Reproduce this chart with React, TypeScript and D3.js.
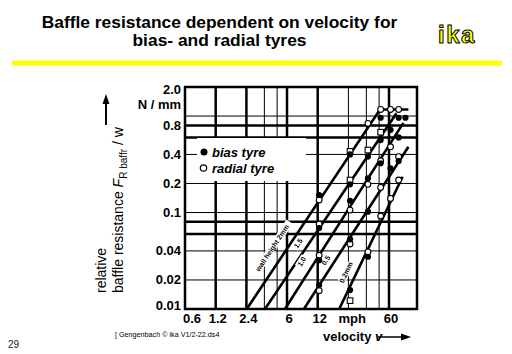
import * as d3 from 'd3';

// axis ticks (log scales)
const yTickValues = [2.0, 0.8, 0.4, 0.2, 0.1, 0.04, 0.02, 0.01];
const yTickLabels = ['2.0', '0.8', '0.4', '0.2', '0.1', '0.04', '0.02', '0.01'];
const xTickValues = [0.6, 1.2, 2.4, 6, 12, 25, 60];
const xTickLabels = ['0.6', '1.2', '2.4', '6', '12', 'mph', '60'];

// grid lines, heavy or thin
const gridYValues = [1.0, 0.8, 0.6, 0.4, 0.2, 0.1, 0.08, 0.06, 0.04, 0.02];
const gridYHeavy = [false, true, true, false, false, false, true, true, false, false];
const gridXValues = [1.2, 2.4, 3.6, 4.8, 6, 12, 24, 36, 48, 60];
const gridXHeavy = [true, true, false, false, true, true, false, false, false, true];

// wall heights: straight lines in log-log (velocity mph, F/w N/mm)
const wallLabels = ['wall height 2mm', '1.5', '1.0', '0.5', '0.2mm'];
const wallLines: [number, number][][] = [
  [[2.42, 0.01], [49, 1.17], [93, 1.17]],
  [[3.65, 0.01], [71, 1.07]],
  [[5.73, 0.01], [83, 0.85]],
  [[8.79, 0.01], [93, 0.48]],
  [[19.5, 0.01], [81.5, 0.235]],
];
const wallLabelAt: [number, number][] = [
  [4.3, 0.043],
  [7.7, 0.048],
  [8.35, 0.031],
  [14.4, 0.032],
  [22.7, 0.024],
];

// measured points
const biasPoints: [number, number][] = [
  [12.4, 0.152], [12.4, 0.069], [12.4, 0.032], [12.4, 0.0177],
  [24.9, 0.4], [24.9, 0.196], [24.9, 0.1325], [24.9, 0.0528], [24.9, 0.0157],
  [37.3, 0.38], [37.3, 0.226], [37.3, 0.102], [37.3, 0.0348],
  [49.7, 0.96], [49.7, 0.564], [49.7, 0.324],
  [62.1, 0.72], [62.1, 0.287],
  [74.6, 0.96], [74.6, 0.6], [74.6, 0.342],
  [87, 0.96],
];
const radialPoints: [number, number][] = [
  [12.4, 0.135], [12.4, 0.076], [12.4, 0.036], [12.4, 0.0155],
  [24.9, 0.106], [24.9, 0.0472],
  [37.3, 0.84], [37.3, 0.196], [37.3, 0.039],
  [49.7, 1.17], [49.7, 0.344], [49.7, 0.182], [49.7, 0.092],
  [62.1, 1.17], [62.1, 0.48], [62.1, 0.14],
  [74.6, 1.17], [74.6, 0.379], [74.6, 0.217],
];
const squarePoints: [number, number][] = [
  [24.9, 0.43], [24.9, 0.217], [24.9, 0.0122], [37.3, 0.444], [49.7, 0.68],
];

const W = 512;
const H = 354;
const frame = { left: 185, right: 417, top: 87, bottom: 309 };
const FONT = "'Liberation Sans', Arial, Helvetica, sans-serif";

export default function App() {
  const x = d3.scaleLog().domain([0.6, 60]).range([185, 389]);
  const y = d3.scaleLog().domain([0.01, 2]).range([frame.bottom, frame.top]);

  const line = d3
    .line<[number, number]>()
    .x((d) => x(d[0]))
    .y((d) => y(d[1]));

  const legend = { x: 197, y: 138, w: 109, h: 43 };

  return (
    <svg
      width={W}
      height={H}
      viewBox={`0 0 ${W} ${H}`}
      style={{ position: 'absolute', left: 0, top: 0, background: '#fff' }}
      fontFamily={FONT}
    >
      <rect width={W} height={H} fill="#fff" />
      <defs>
        <clipPath id="plot">
          <rect
            x={frame.left}
            y={frame.top}
            width={frame.right - frame.left}
            height={frame.bottom - frame.top}
          />
        </clipPath>
      </defs>

      {/* title */}
      <text x={219.5} y={27.5} textAnchor="middle" fontSize={17.4} fontWeight="bold">
        Baffle resistance dependent on velocity for
      </text>
      <text x={219.5} y={46} textAnchor="middle" fontSize={17.4} fontWeight="bold">
        bias- and radial tyres
      </text>
      <text
        x={457}
        y={43}
        textAnchor="middle"
        fontSize={24}
        fontWeight="bold"
        letterSpacing={1.5}
        fill="#ffff00"
        stroke="#000"
        strokeWidth={1}
      >
        ika
      </text>
      <line x1={12} x2={502} y1={63} y2={63} stroke="#ffff00" strokeWidth={5} />

      {/* grid */}
      <g clipPath="url(#plot)">
        {gridYValues.map((v, i) => (
          <line
            key={`gy${i}`}
            x1={frame.left}
            x2={frame.right}
            y1={y(v)}
            y2={y(v)}
            stroke="#000"
            strokeWidth={gridYHeavy[i] ? 2.5 : 1}
          />
        ))}
        {gridXValues.map((v, i) => (
          <line
            key={`gx${i}`}
            x1={x(v)}
            x2={x(v)}
            y1={frame.top}
            y2={frame.bottom}
            stroke="#000"
            strokeWidth={gridXHeavy[i] ? 2.5 : 1}
          />
        ))}
      </g>

      {/* wall height lines */}
      <g clipPath="url(#plot)">
        {wallLines.map((pts, i) => (
          <path
            key={`wl${i}`}
            d={line(pts) ?? ''}
            fill="none"
            stroke="#000"
            strokeWidth={2.6}
          />
        ))}
      </g>
      {wallLabels.map((label, i) => {
        const [p0, p1] = wallLines[i];
        const angle =
          (Math.atan2(y(p1[1]) - y(p0[1]), x(p1[0]) - x(p0[0])) * 180) / Math.PI;
        const cx = x(wallLabelAt[i][0]);
        const cy = y(wallLabelAt[i][1]);
        return (
          <g key={`wt${i}`} transform={`translate(${cx},${cy}) rotate(${angle})`}>
            <rect x={-label.length * 2.1} y={-4} width={label.length * 4.2} height={8} fill="#fff" />
            <text textAnchor="middle" y={2.5} fontSize={7} fontWeight="bold">
              {label}
            </text>
          </g>
        );
      })}

      {/* markers */}
      {squarePoints.map((d, i) => (
        <rect
          key={`sq${i}`}
          x={x(d[0]) - 2.8}
          y={y(d[1]) - 2.8}
          width={5.6}
          height={5.6}
          fill="#fff"
          stroke="#000"
          strokeWidth={1.1}
        />
      ))}
      {radialPoints.map((d, i) => (
        <circle
          key={`rp${i}`}
          cx={x(d[0])}
          cy={y(d[1])}
          r={2.9}
          fill="#fff"
          stroke="#000"
          strokeWidth={1.1}
        />
      ))}
      {biasPoints.map((d, i) => (
        <circle key={`bp${i}`} cx={x(d[0])} cy={y(d[1])} r={3.1} fill="#000" />
      ))}

      {/* legend */}
      <rect x={legend.x} y={legend.y} width={legend.w} height={legend.h} fill="#fff" />
      <circle cx={204} cy={152} r={3.5} fill="#000" />
      <text x={212} y={156.5} fontSize={13} fontWeight="bold" fontStyle="italic">
        bias tyre
      </text>
      <circle cx={203.5} cy={168} r={3.2} fill="#fff" stroke="#000" strokeWidth={1.2} />
      <text x={212} y={172.5} fontSize={13} fontWeight="bold" fontStyle="italic">
        radial tyre
      </text>

      {/* frame */}
      <rect
        x={frame.left}
        y={frame.top}
        width={frame.right - frame.left}
        height={frame.bottom - frame.top}
        fill="none"
        stroke="#000"
        strokeWidth={2.5}
      />

      {/* y ticks */}
      {yTickValues.map((v, i) => (
        <text
          key={`yt${i}`}
          x={181}
          y={Math.min(Math.max(y(v), 89), 305) + 4.5}
          textAnchor="end"
          fontSize={13}
          fontWeight="bold"
        >
          {yTickLabels[i]}
        </text>
      ))}
      <text x={181} y={108.5} textAnchor="end" fontSize={13} fontWeight="bold">
        N / mm
      </text>

      {/* x ticks */}
      {xTickValues.map((v, i) => (
        <text
          key={`xt${i}`}
          x={Math.max(x(v) + 2, 192)}
          y={323}
          textAnchor="middle"
          fontSize={13}
          fontWeight="bold"
        >
          {xTickLabels[i]}
        </text>
      ))}

      {/* y title */}
      <text transform="translate(106,293) rotate(-90)" fontSize={14}>
        relative
      </text>
      <text transform="translate(123,293) rotate(-90)" fontSize={14}>
        baffle resistance{' '}
        <tspan fontStyle="italic">F</tspan>
        <tspan fontSize={10} dy={4}>
          R baffr
        </tspan>
        <tspan dy={-4}> / w</tspan>
      </text>
      <line x1={106} x2={106} y1={125} y2={102} stroke="#000" strokeWidth={2} />
      <path d="M106,94 L102.5,104 L109.5,104 Z" fill="#000" />

      {/* x title */}
      <text x={323} y={341} fontSize={13} fontWeight="bold">
        velocity <tspan fontStyle="italic">v</tspan>
      </text>
      <line x1={378} x2={402} y1={337} y2={337} stroke="#000" strokeWidth={1.5} />
      <path d="M411,337 L401,333.5 L401,340.5 Z" fill="#000" />

      {/* footer */}
      <text x={115} y={337} fontSize={7.2}>
        [ Gengenbach © ika  V1/2-22.ds4
      </text>
      <text x={8} y={348} fontSize={10} fill="#222">
        29
      </text>
    </svg>
  );
}
